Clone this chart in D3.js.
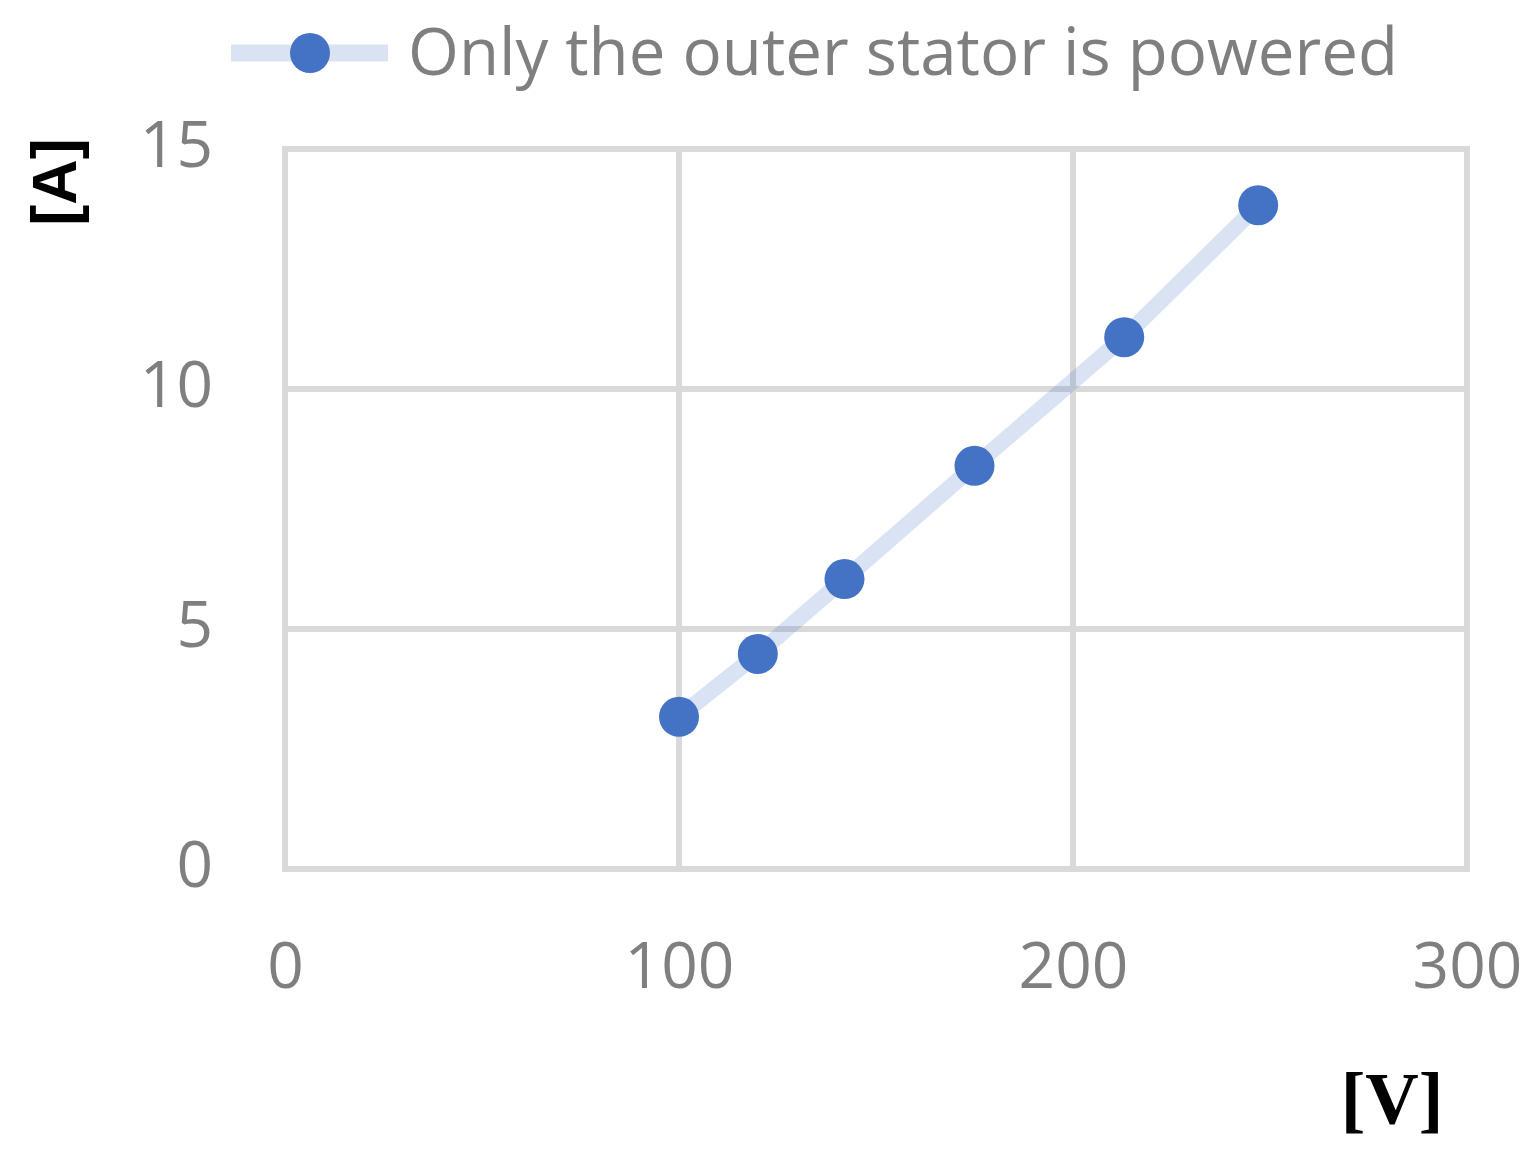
<!DOCTYPE html>
<html>
<head>
<meta charset="utf-8">
<script src="https://cdn.jsdelivr.net/npm/d3@7"></script>
<style>
  body { margin: 0; background: #fff; }
  text { font-family: "Open Sans", sans-serif; }
</style>
</head>
<body>
<svg id="chart" width="1539" height="1157"></svg>
<script>
// data
var voltage = [100, 120, 142, 175, 213, 247];
var current = [3.17, 4.48, 6.04, 8.40, 11.08, 13.83];
var xTicks = [0, 100, 200, 300];
var yTicks = [0, 5, 10, 15];
var seriesName = "Only the outer stator is powered";

var svg = d3.select("#chart");

var x = d3.scaleLinear().domain([0, 300]).range([285, 1467]);
var y = d3.scaleLinear().domain([0, 15]).range([869, 149]);

var grid = svg.append("g");

// vertical gridlines
grid.selectAll("line.v")
  .data(xTicks)
  .enter().append("line")
    .attr("class", "v")
    .attr("x1", function(d){ return x(d); })
    .attr("x2", function(d){ return x(d); })
    .attr("y1", y(15))
    .attr("y2", y(0))
    .attr("stroke", "#d9d9d9")
    .attr("stroke-width", 6);

// horizontal gridlines
grid.selectAll("line.h")
  .data(yTicks)
  .enter().append("line")
    .attr("class", "h")
    .attr("x1", x(0) - 3)
    .attr("x2", x(300) + 3)
    .attr("y1", function(d){ return y(d); })
    .attr("y2", function(d){ return y(d); })
    .attr("stroke", "#d9d9d9")
    .attr("stroke-width", 6);

// tick labels via d3 axes, domain & ticks hidden
var xAxis = svg.append("g")
  .attr("transform", "translate(0," + y(0) + ")")
  .call(d3.axisBottom(x).tickValues(xTicks).tickSize(0).tickPadding(74));
var yAxis = svg.append("g")
  .attr("transform", "translate(" + x(0) + ",0)")
  .call(d3.axisLeft(y).tickValues(yTicks).tickSize(0).tickPadding(72));

[xAxis, yAxis].forEach(function(a){
  a.select(".domain").remove();
  a.selectAll("text")
    .attr("fill", "#7f7f7f")
    .style("font-family", "'Open Sans', sans-serif")
    .style("font-size", "64px");
});
yAxis.selectAll("text").attr("dy", "0.28em");

// series line (translucent so gridlines show through)
var line = d3.line()
  .x(function(d, i){ return x(voltage[i]); })
  .y(function(d){ return y(d); });

svg.append("path")
  .attr("d", line(current))
  .attr("fill", "none")
  .attr("stroke", "#4472c4")
  .attr("stroke-opacity", 0.2)
  .attr("stroke-width", 16);

svg.selectAll("circle.pt")
  .data(current)
  .enter().append("circle")
    .attr("class", "pt")
    .attr("cx", function(d, i){ return x(voltage[i]); })
    .attr("cy", function(d){ return y(d); })
    .attr("r", 20)
    .attr("fill", "#4472c4");

// legend
var legend = svg.append("g");
legend.append("line")
  .attr("x1", 231).attr("x2", 388)
  .attr("y1", 53).attr("y2", 53)
  .attr("stroke", "#4472c4")
  .attr("stroke-opacity", 0.2)
  .attr("stroke-width", 17);
legend.append("circle")
  .attr("cx", 310).attr("cy", 53).attr("r", 20)
  .attr("fill", "#4472c4");
legend.append("text")
  .attr("x", 408).attr("y", 75)
  .attr("fill", "#7f7f7f")
  .attr("textLength", 990)
  .attr("lengthAdjust", "spacingAndGlyphs")
  .style("font-size", "66px")
  .text(seriesName);

// axis titles
svg.append("text")
  .attr("transform", "translate(76,182) rotate(-90)")
  .attr("text-anchor", "middle")
  .attr("fill", "#000")
  .style("font-family", "'Liberation Sans', Arial, sans-serif")
  .style("font-weight", "bold")
  .style("font-size", "63px")
  .text("[A]");

svg.append("text")
  .attr("x", 1392).attr("y", 1124)
  .attr("text-anchor", "middle")
  .attr("fill", "#000")
  .style("font-family", "'Liberation Serif', 'Times New Roman', serif")
  .style("font-weight", "bold")
  .style("font-size", "74px")
  .text("[V]");
</script>
</body>
</html>
